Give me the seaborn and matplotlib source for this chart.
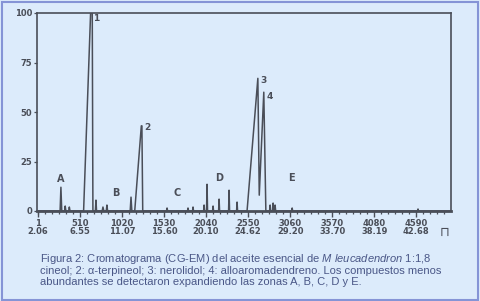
import matplotlib
matplotlib.use("Agg")
import matplotlib.pyplot as plt
import matplotlib.transforms as mtransforms
import seaborn as sns
import pandas as pd
from matplotlib.patches import Rectangle
from matplotlib.ticker import MultipleLocator

# ---- data (scan number vs. relative abundance %) ----
trace_scan = [0, 270, 280, 290, 325, 332, 340, 375, 382, 390,
              555, 640, 660, 668, 698, 705, 712, 780, 790, 800, 830, 838, 846,
              1120, 1130, 1140, 1175, 1255, 1262, 1272,
              1560, 1567, 1574, 1815, 1821, 1828, 1876, 1882, 1888,
              2010, 2016, 2022, 2046, 2052, 2058, 2119, 2125, 2131,
              2192, 2198, 2204, 2313, 2319, 2325, 2410, 2416, 2422,
              2537, 2668, 2685, 2740, 2765,
              2810, 2817, 2824, 2847, 2853, 2860, 2871, 2877, 2884,
              3078, 3084, 3090, 4604, 4610, 4616, 5010]
trace_intensity = [0, 0, 12, 0, 0, 2.5, 0, 0, 2, 0,
                   0, 100, 100, 0, 0, 5.5, 0, 0, 2, 0, 0, 3, 0,
                   0, 7, 0, 0, 43, 43, 0,
                   0, 1.5, 0, 0, 1.5, 0, 0, 2, 0,
                   0, 3, 0, 0, 13.5, 0, 0, 2.5, 0,
                   0, 6, 0, 0, 10.5, 0, 0, 4.5, 0,
                   0, 67, 8, 60, 0,
                   0, 3, 0, 0, 4, 0, 0, 3, 0,
                   0, 1.5, 0, 0, 1, 0, 0]

tick_scans = [1, 510, 1020, 1530, 2040, 2550, 3060, 3570, 4080, 4590]
tick_times = ["2.06", "6.55", "11.07", "15.60", "20.10", "24.62", "29.20", "33.70", "38.19", "42.68"]
y_ticks = [0, 25, 50, 75, 100]

peak_labels = ["1", "2", "3", "4"]
peak_label_scan = [675, 1290, 2700, 2770]
peak_label_y = [97, 42, 66, 58]

zone_labels = ["A", "B", "C", "D", "E"]
zone_scan = [280, 940, 1690, 2200, 3080]
zone_y = [16, 9, 9, 16.5, 16.5]

caption_lines = [
    r"Figura 2: Cromatograma (CG-EM) del aceite esencial de $\it{M\ leucadendron}$ 1:1,8",
    "cineol; 2: α-terpineol; 3: nerolidol; 4: alloaromadendreno. Los compuestos menos",
    "abundantes se detectaron expandiendo las zonas A, B, C, D y E.",
]

# ---- styling ----
BG = "#dcebfb"
INK = "#4a4e58"
CAP = "#4a5787"
BORDER = "#8594d6"

sns.set_theme(style="white")
plt.rcParams["font.family"] = ["DejaVu Sans"]
plt.rcParams["mathtext.fontset"] = "custom"
plt.rcParams["mathtext.rm"] = "Liberation Sans"
plt.rcParams["mathtext.it"] = "Liberation Sans:italic"

fig = plt.figure(figsize=(4.81, 3.01), dpi=100, facecolor=BG)
ax = fig.add_axes([37 / 481, 1 - 211 / 301, 414 / 481, 198 / 301])
ax.set_facecolor(BG)

df = pd.DataFrame({"scan": trace_scan, "intensity": trace_intensity})
sns.lineplot(data=df, x="scan", y="intensity", ax=ax, color=INK, linewidth=1.1,
             estimator=None, sort=False)

ax.set_xlim(-10, 5010)
ax.set_ylim(0, 100)
ax.set_xlabel("")
ax.set_ylabel("")

ax.set_xticks(tick_scans)
ax.set_xticklabels([f"{s}\n{t}" for s, t in zip(tick_scans, tick_times)],
                   fontsize=6, fontweight="bold", color=INK, ha="center",
                   linespacing=0.95)
shift = mtransforms.ScaledTranslation(2 / 100, 0, fig.dpi_scale_trans)
for lab in ax.get_xticklabels():
    lab.set_transform(lab.get_transform() + shift)
ax.xaxis.set_minor_locator(MultipleLocator(85))
ax.set_yticks(y_ticks)
ax.set_yticklabels([str(v) for v in y_ticks], fontsize=6, fontweight="bold", color=INK)

ax.tick_params(axis="x", which="major", direction="out", length=4, width=1.0,
               color=INK, pad=1.5, bottom=True)
ax.tick_params(axis="x", which="minor", direction="out", length=2.5, width=0.9,
               color=INK, bottom=True)
ax.tick_params(axis="y", which="major", direction="out", length=2.5, width=0.9,
               color=INK, pad=1, left=True)
for sp in ax.spines.values():
    sp.set_color(INK)
    sp.set_linewidth(1.2)
ax.spines["bottom"].set_linewidth(2.0)

for txt, xs, ys in zip(peak_labels, peak_label_scan, peak_label_y):
    ax.text(xs, ys, txt, fontsize=6.5, fontweight="bold", color=INK, ha="left", va="center")
for txt, xs, ys in zip(zone_labels, zone_scan, zone_y):
    ax.text(xs, ys, txt, fontsize=7, fontweight="bold", color=INK, ha="center", va="center")

fig.text(445 / 481, 1 - 232 / 301, "⊓", fontsize=9, color=INK, ha="center", va="center")

for i, line in enumerate(caption_lines):
    fig.text(40 / 481, 1 - (259 + 11.5 * i) / 301, line, fontsize=8.05,
             family="Liberation Sans", color=CAP, ha="left", va="center")

fig.patches.append(Rectangle((1.5 / 481, 1.5 / 301), 477 / 481, 297.5 / 301,
                             transform=fig.transFigure, fill=False,
                             edgecolor=BORDER, linewidth=1.5))

fig.savefig("out.png", dpi=100, facecolor=BG)
